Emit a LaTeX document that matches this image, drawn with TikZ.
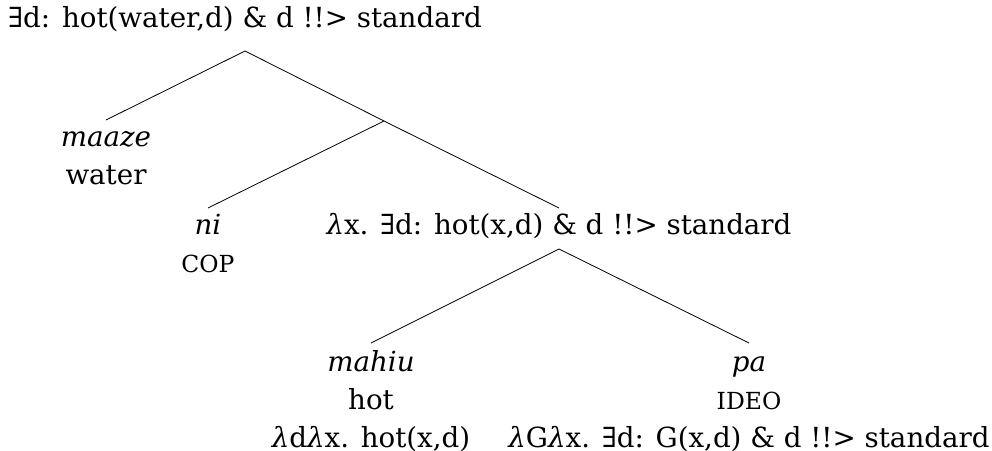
\documentclass[tikz,border=0pt]{standalone}
\usepackage{fontspec}
\setmainfont{DejaVu Serif}
\newcommand{\fakesc}[1]{{\fontsize{23.5}{38}\selectfont #1}}
\newcommand{\lam}{\textit{λ}}
\begin{document}
\begin{tikzpicture}[x=1pt,y=-1pt,
  tn/.style={inner sep=0pt, anchor=base, font=\fontsize{27.7}{38}\selectfont},
  edge/.style={line width=0.8pt}]
\useasboundingbox (0,0) rectangle (992,450);
\node[tn] (top) at (245,27) {∃d: hot(water,d) \& d !!> standard};
\node[tn] (maaze) at (106,146) {\begin{tabular}[t]{@{}c@{}}\textit{maaze}\\ water\end{tabular}};
\coordinate (mid) at (384,121);
\node[tn] (ni) at (208,234) {\begin{tabular}[t]{@{}c@{}}\textit{ni}\\ \fakesc{COP}\end{tabular}};
\node[tn] (lx) at (559,234) {\lam x. ∃d: hot(x,d) \& d !!> standard};
\node[tn] (mahiu) at (371,371) {\begin{tabular}[t]{@{}c@{}}\textit{mahiu}\\ hot\\ \lam d\lam x. hot(x,d)\end{tabular}};
\node[tn] (pa) at (749,371) {\begin{tabular}[t]{@{}c@{}}\textit{pa}\\ \fakesc{IDEO}\\ \lam G\lam x. ∃d: G(x,d) \& d !!> standard\end{tabular}};
\draw[edge] ([yshift=-24pt]top.base) -- ([yshift=26pt]maaze.base);
\draw[edge] ([yshift=-24pt]top.base) -- (mid);
\draw[edge] (mid) -- ([yshift=26pt]ni.base);
\draw[edge] (mid) -- ([yshift=26pt]lx.base);
\draw[edge] ([yshift=-15pt]lx.base) -- ([yshift=28pt]mahiu.base);
\draw[edge] ([yshift=-15pt]lx.base) -- ([yshift=28pt]pa.base);
\end{tikzpicture}
\end{document}
